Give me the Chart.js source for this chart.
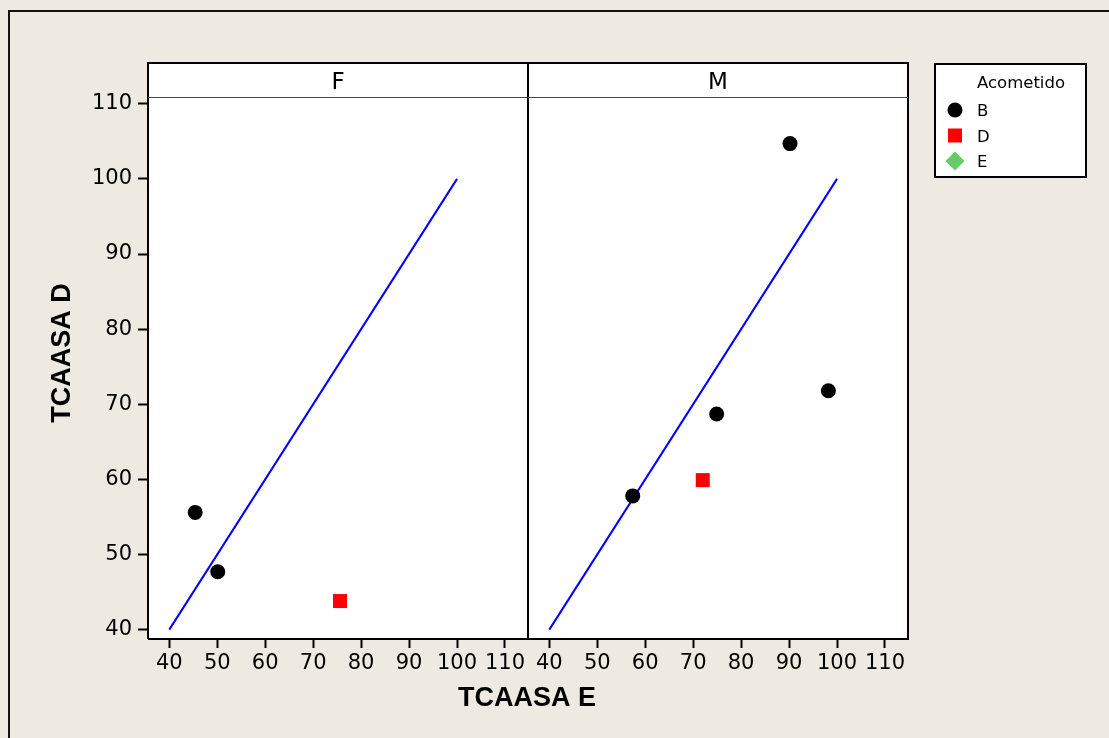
<!DOCTYPE html>
<html>
<head>
<meta charset="utf-8">
<script src="https://cdn.jsdelivr.net/npm/chart.js@4.4.1/dist/chart.umd.min.js"></script>
<style>
  html, body { margin: 0; padding: 0; background: #eeeae1; }
  body { width: 1109px; height: 738px; position: relative; overflow: hidden; }
  #frame { position: absolute; left: 8px; top: 10px; width: 1120px; height: 760px;
           border-top: 2px solid #111; border-left: 2px solid #111; }
  canvas { position: absolute; left: 0; top: 0; }
</style>
</head>
<body>
<div id="frame"></div>
<canvas id="panel-f" width="1109" height="738"></canvas>
<canvas id="panel-m" width="1109" height="738"></canvas>
<script>
// groups (Acometido) and how they are drawn
const groupNames  = ["B", "D", "E"];
const groupColors = ["#000000", "#ff0000", "#66cc66"];
const groupStyles = ["circle", "rect", "rectRot"];
const groupRadius = [7.5, 9.9, 9.5];

// panel F : TCAASA E (x) / TCAASA D (y)
const fB_E = [45.4, 50.1];
const fB_D = [55.6, 47.7];
const fD_E = [75.6];
const fD_D = [43.8];
const fE_E = [];
const fE_D = [];

// panel M
const mB_E = [57.4, 74.9, 90.2, 98.2];
const mB_D = [57.8, 68.7, 104.7, 71.8];
const mD_E = [72.0];
const mD_D = [59.9];
const mE_E = [];
const mE_D = [];

// y = x reference line
const refLine = [40, 100];

const xTicks = [40, 50, 60, 70, 80, 90, 100, 110];
const yTicks = [40, 50, 60, 70, 80, 90, 100, 110];
const xRange = [35.56, 114.8];
const yRange = [38.75, 110.9];

const FONT = '"DejaVu Sans", Verdana, sans-serif';
const BOLD = '"Liberation Sans", Arial, sans-serif';
const STRIP_TOP = 63;

const pts = (xs, ys) => xs.map((x, i) => ({ x, y: ys[i] }));

function marker(ctx, style, x, y, r, color) {
  ctx.fillStyle = color;
  ctx.beginPath();
  if (style === "circle") {
    ctx.arc(x, y, r, 0, Math.PI * 2);
  } else if (style === "rect") {
    const s = r * Math.SQRT1_2;
    ctx.rect(x - s, y - s, 2 * s, 2 * s);
  } else {
    ctx.moveTo(x, y - r); ctx.lineTo(x + r, y); ctx.lineTo(x, y + r); ctx.lineTo(x - r, y);
    ctx.closePath();
  }
  ctx.fill();
}

// white panel + strip with label
const panelFrame = {
  id: "panelFrame",
  beforeDraw(chart) {
    const { ctx, chartArea: a } = chart;
    ctx.save();
    ctx.fillStyle = "#fff";
    ctx.fillRect(a.left, STRIP_TOP, a.width, a.bottom - STRIP_TOP);
    ctx.restore();
  },
  afterDraw(chart, args, opts) {
    const { ctx, chartArea: a } = chart;
    ctx.save();
    ctx.strokeStyle = "#000";
    ctx.lineWidth = 2;
    ctx.beginPath();
    ctx.moveTo(a.left, a.bottom); ctx.lineTo(a.left, STRIP_TOP);
    ctx.lineTo(a.right, STRIP_TOP); ctx.lineTo(a.right, a.bottom);
    ctx.lineTo(a.left, a.bottom);
    ctx.stroke();
    ctx.strokeStyle = "#444";
    ctx.lineWidth = 1;
    ctx.beginPath();
    ctx.moveTo(a.left, a.top + 0.5); ctx.lineTo(a.right, a.top + 0.5);
    ctx.stroke();
    ctx.fillStyle = "#000";
    ctx.font = "23px " + FONT;
    ctx.textAlign = "center";
    ctx.textBaseline = "alphabetic";
    ctx.fillText(opts.label, (a.left + a.right) / 2, 89);
    ctx.restore();
  }
};

// axis titles + legend box, drawn once on the top canvas
const figureText = {
  id: "figureText",
  afterDraw(chart) {
    const ctx = chart.ctx;
    ctx.save();
    ctx.fillStyle = "#000";
    ctx.font = "bold 27px " + BOLD;
    ctx.textAlign = "center";
    ctx.textBaseline = "alphabetic";
    ctx.fillText("TCAASA E", 527, 706);
    ctx.translate(70, 353);
    ctx.rotate(-Math.PI / 2);
    ctx.fillText("TCAASA D", 0, 0);
    ctx.restore();

    // legend
    const items = chart.data.datasets.filter(d => groupNames.includes(d.label));
    ctx.save();
    ctx.fillStyle = "#fff";
    ctx.fillRect(935, 64, 151, 113);
    ctx.strokeStyle = "#000";
    ctx.lineWidth = 2;
    ctx.strokeRect(935, 64, 151, 113);
    ctx.font = "16.5px " + FONT;
    ctx.textAlign = "left";
    ctx.fillStyle = "#000";
    ctx.fillText("Acometido", 977, 88);
    items.forEach((d, i) => {
      const cy = 110 + i * 25.5;
      marker(ctx, d.pointStyle, 955, cy, d.pointRadius, d.backgroundColor);
      ctx.fillStyle = "#000";
      ctx.fillText(d.label, 977, cy + 6);
    });
    ctx.restore();
  }
};

function makePanel(id, name, series, first) {
  const datasets = series.map((s, i) => ({
    label: groupNames[i],
    data: s,
    pointStyle: groupStyles[i],
    pointRadius: groupRadius[i],
    pointHoverRadius: groupRadius[i],
    backgroundColor: groupColors[i],
    borderColor: groupColors[i],
    pointBorderWidth: 0
  }));
  datasets.push({
    label: "ref",
    data: refLine.map(v => ({ x: v, y: v })),
    showLine: true,
    borderColor: "#0000ff",
    borderWidth: 2,
    pointRadius: 0,
    pointHoverRadius: 0,
    fill: false
  });

  const tickFont = { family: FONT, size: 21 };
  return new Chart(document.getElementById(id), {
    type: "scatter",
    data: { datasets },
    options: {
      responsive: false,
      animation: false,
      devicePixelRatio: 1,
      events: [],
      layout: { padding: { left: first ? 0 : 528, right: first ? 581 : 201, top: 97, bottom: 39 } },
      scales: {
        x: {
          type: "linear",
          min: xRange[0], max: xRange[1],
          afterBuildTicks: s => { s.ticks = xTicks.map(v => ({ value: v })); },
          afterFit: s => { s.height = 60; },
          border: { display: false },
          grid: { drawOnChartArea: false, drawTicks: true, tickLength: 9, tickWidth: 2, tickColor: "#000" },
          ticks: { color: "#000", font: tickFont, padding: 3, maxRotation: 0, autoSkip: false }
        },
        y: {
          type: "linear",
          display: first,
          min: yRange[0], max: yRange[1],
          afterBuildTicks: s => { s.ticks = yTicks.map(v => ({ value: v })); },
          afterFit: s => { s.width = first ? 148 : 0; },
          border: { display: false },
          grid: { drawOnChartArea: false, drawTicks: true, tickLength: 10, tickWidth: 2, tickColor: "#000" },
          ticks: { color: "#000", font: tickFont, padding: 6, autoSkip: false }
        }
      },
      plugins: {
        legend: { display: false },
        tooltip: { enabled: false },
        panelFrame: { label: name }
      }
    },
    plugins: first ? [panelFrame] : [panelFrame, figureText]
  });
}

makePanel("panel-f", "F", [pts(fB_E, fB_D), pts(fD_E, fD_D), pts(fE_E, fE_D)], true);
makePanel("panel-m", "M", [pts(mB_E, mB_D), pts(mD_E, mD_D), pts(mE_E, mE_D)], false);
</script>
</body>
</html>
